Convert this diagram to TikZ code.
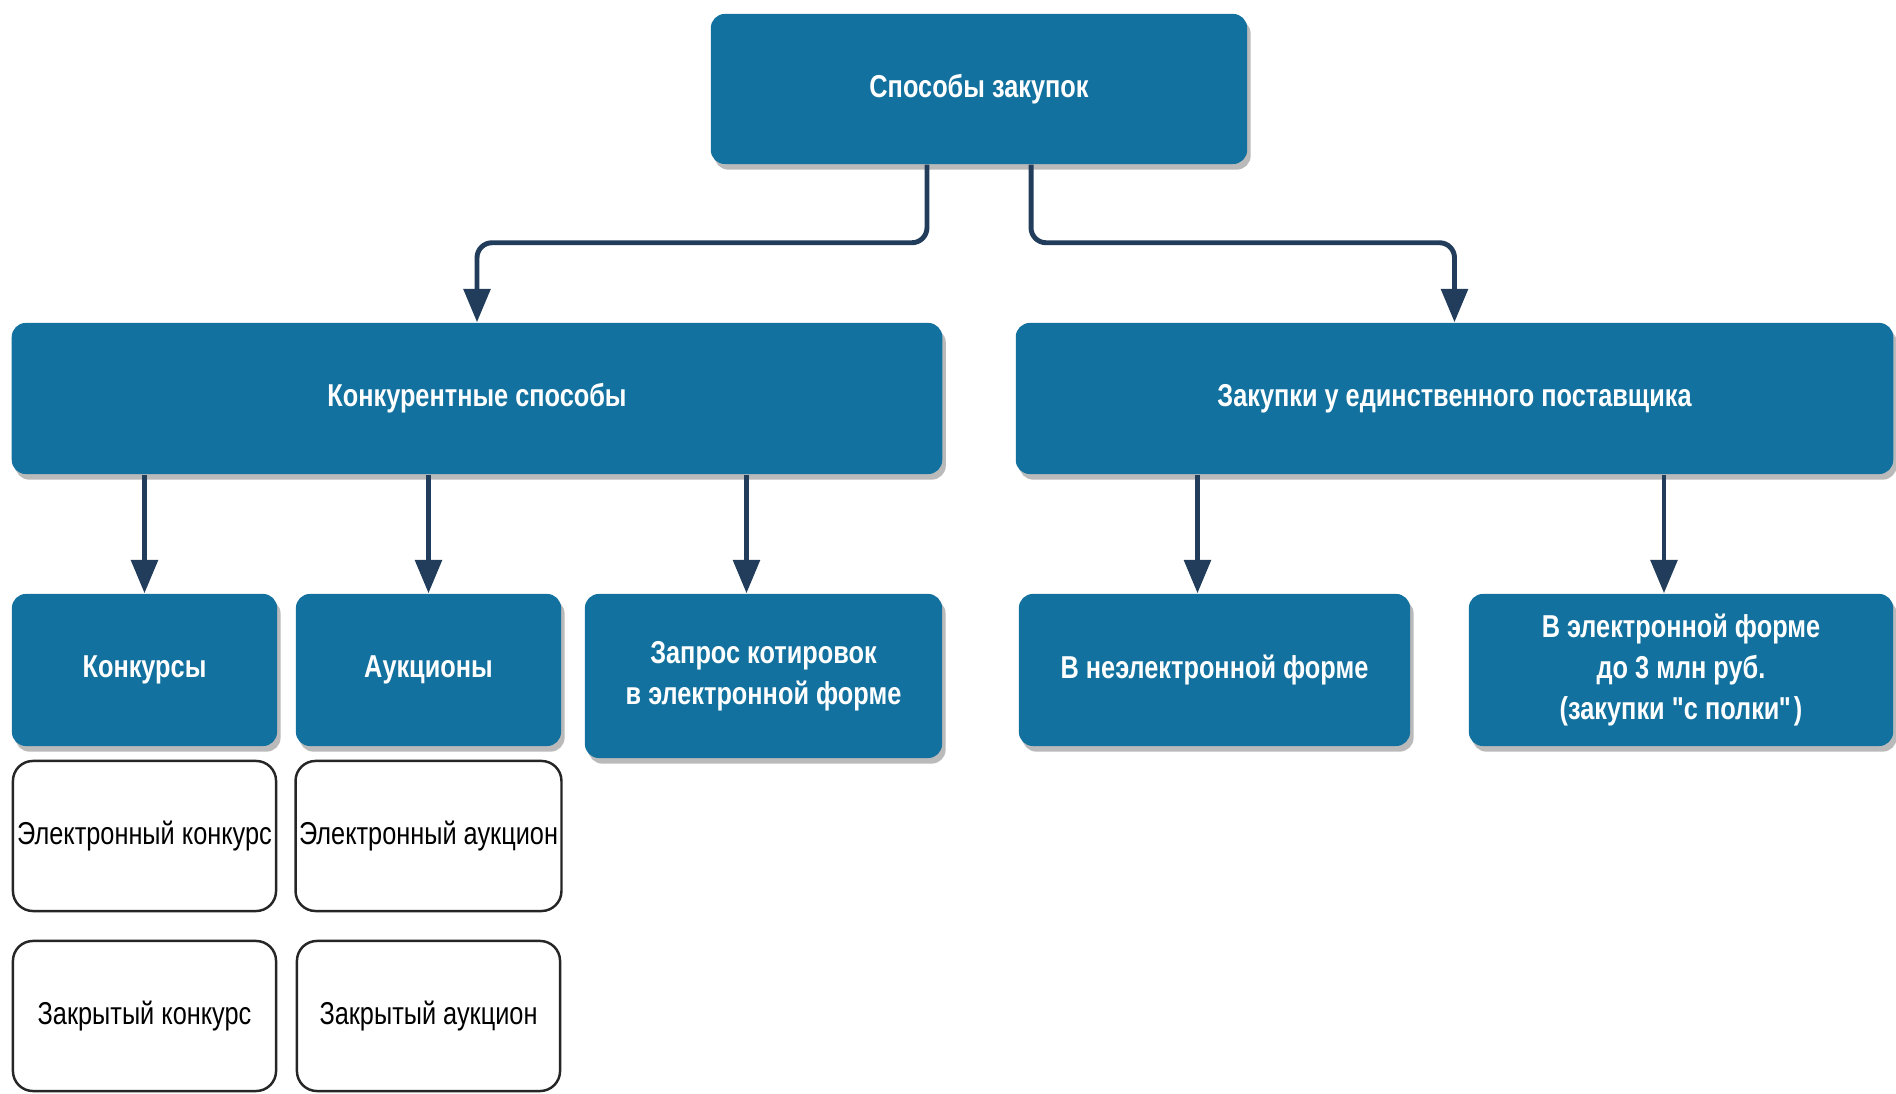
\documentclass[tikz,border=0pt]{standalone}
\usepackage{fontspec}
\setmainfont{Liberation Sans}[FakeStretch=0.8]
\usepackage{tikz}
\usetikzlibrary{calc}
\usetikzlibrary{arrows.meta}
\usetikzlibrary{shadows}
\definecolor{boxblue}{RGB}{18,113,158}
\definecolor{linenavy}{RGB}{33,61,91}
\tikzset{
	bluestyle/.style={rectangle,rounded corners=0.14cm,fill=boxblue,text=white,align=center,inner sep=2pt,
		font=\bfseries\fontsize{9}{11.7}\selectfont,
		drop shadow={shadow xshift=1pt,shadow yshift=-1.6pt,fill=black!45,opacity=0.6}},
	whitestyle/.style={rectangle,rounded corners=0.2cm,draw=black!85,line width=0.7pt,fill=white,align=center,
		inner sep=1pt,font=\fontsize{9}{11.7}\selectfont,minimum width=2.63cm,minimum height=1.5cm},
	arrowstyle/.style={draw=linenavy,line width=1.4pt,-{Triangle[width=7.5pt,length=9.5pt]}}
}
\begin{document}
\begin{tikzpicture}[x=0.01cm,y=0.01cm]
		\useasboundingbox (0,0) rectangle (1896,1094);
		\node[bluestyle,minimum width=5.36cm,minimum height=1.5cm] (top) at (979,1005) {Способы закупок};
		\node[bluestyle,minimum width=9.3cm,minimum height=1.51cm] (conc) at (477,695.5) {Конкурентные способы};
		\node[bluestyle,minimum width=8.77cm,minimum height=1.51cm] (single) at (1454.5,695.5) {Закупки у единственного поставщика};
		\node[bluestyle,minimum width=2.65cm,minimum height=1.52cm] (konk) at (144.5,424) {Конкурсы};
		\node[bluestyle,minimum width=2.65cm,minimum height=1.52cm] (auk) at (428.5,424) {Аукционы};
		\node[bluestyle,minimum width=3.57cm,minimum height=1.64cm] (zapros) at (763.5,418) {Запрос котировок\\в электронной форме};
		\node[bluestyle,minimum width=3.91cm,minimum height=1.52cm] (nonel) at (1214.5,424) {В неэлектронной форме};
		\node[bluestyle,minimum width=4.24cm,minimum height=1.52cm] (elform) at (1681,424) {В электронной форме\\до 3 млн руб.\\ (закупки \textquotedbl\kern-0.8pt с полки\kern-0.2pt\textquotedbl)};
		\node[whitestyle] (elkonk) at (144.5,258) {Электронный конкурс};
		\node[whitestyle] (elauk) at (428.5,258) {Электронный аукцион};
		\node[whitestyle] (zkonk) at (144.5,78) {Закрытый конкурс};
		\node[whitestyle] (zauk) at (428.5,78) {Закрытый аукцион};
		\draw[arrowstyle,rounded corners=0.15cm] ([xshift=-0.52cm]top.south) -- ++(0,-78) -| (conc.north);
		\draw[arrowstyle,rounded corners=0.15cm] ([xshift=0.52cm]top.south) -- ++(0,-78) -| (single.north);
		\draw[arrowstyle] (conc.south -| konk.north) -- (konk.north);
		\draw[arrowstyle] (conc.south -| auk.north) -- (auk.north);
		\draw[arrowstyle] ([xshift=-0.17cm]zapros.north |- conc.south) -- ([xshift=-0.17cm]zapros.north);
		\draw[arrowstyle] ([xshift=-0.17cm]nonel.north |- single.south) -- ([xshift=-0.17cm]nonel.north);
		\draw[arrowstyle] ([xshift=-0.17cm]elform.north |- single.south) -- ([xshift=-0.17cm]elform.north);
\end{tikzpicture}
\end{document}
